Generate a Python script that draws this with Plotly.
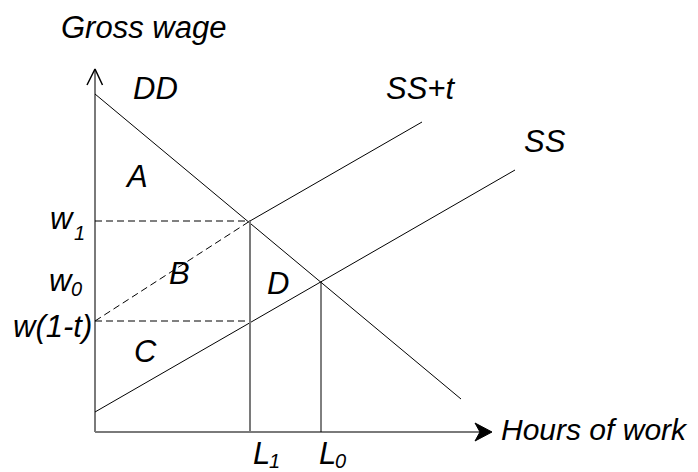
import plotly.graph_objects as go

# Diagram values (hours on x, gross wage on y, arbitrary units)
L1 = 15.5
L0 = 22.6
w1 = 21.1
w0 = 15.0
w_net = 11.1

dd_x = [0.0, 36.6]
dd_y = [33.8, 3.3]
ss_x = [0.0, 42.0]
ss_y = [2.0, 26.2]
sst_x = [L1, 32.7]
sst_y = [w1, 31.0]
pivot_x = [0.0, L1]
pivot_y = [w_net, w1]

x_axis_end = 39.5
y_axis_top = 36.3

FONT = "Liberation Sans, Arial, Helvetica, sans-serif"
BIG = 31
SMALL = 20

fig = go.Figure()

def seg(xs, ys, color="black", width=1, dash=None, fill=None):
    fig.add_trace(go.Scatter(
        x=xs, y=ys, mode="lines",
        line=dict(color=color, width=width, dash=dash),
        fill=fill, fillcolor=color if fill else None,
        hoverinfo="skip", showlegend=False))

# axes
seg([0, 0], [0, y_axis_top], color="#7a7a7a", width=2)
seg([0, x_axis_end], [0, 0], color="#7a7a7a", width=2)
# y arrowhead (open chevron)
seg([-0.8, 0, 0.75], [y_axis_top - 1.6, y_axis_top, y_axis_top - 1.6], width=1.5)
# x arrowhead (filled chevron)
seg([x_axis_end - 1.5, x_axis_end + 0.2, x_axis_end - 1.5, x_axis_end - 1.0, x_axis_end - 1.5],
    [0.9, 0, -0.9, 0, 0.9], width=1, fill="toself")

# curves
seg(dd_x, dd_y)
seg(ss_x, ss_y)
seg(sst_x, sst_y)
seg(pivot_x, pivot_y, dash="7px,4px")
seg([0, L1], [w1, w1], dash="7px,4px")
seg([0, L1], [w_net, w_net], dash="7px,4px")
seg([L1, L1], [0, w1], color="#7a7a7a", width=2)
seg([L0, L0], [0, w0])

labels = [
    ("Gross wage", -3.6, 40.5, BIG),
    ("DD", 3.6, 34.4, BIG),
    ("A", 2.8, 25.6, BIG),
    ("w", -4.7, 21.4, BIG),
    ("1", -2.3, 19.9, SMALL),
    ("w", -4.8, 15.2, BIG),
    ("0", -2.6, 14.3, SMALL),
    ("w(1-t)", -8.4, 10.6, BIG),
    ("B", 7.2, 15.9, BIG),
    ("D", 17.0, 14.9, BIG),
    ("C", 3.7, 8.1, BIG),
    ("L", 15.6, -2.1, BIG),
    ("1", 17.2, -2.9, SMALL),
    ("L", 22.2, -2.1, BIG),
    ("0", 23.8, -2.9, SMALL),
    ("SS+t", 28.9, 34.4, BIG),
    ("SS", 42.7, 29.1, BIG),
    ("Hours of work", 40.4, 0.3, 30),
]
for txt, x, y, size in labels:
    fig.add_annotation(x=x, y=y, xref="x", yref="y", text="<i>" + txt + "</i>",
                       showarrow=False, xanchor="left", yanchor="middle",
                       font=dict(family=FONT, size=size, color="black"))

# the page body has an 8px margin, so the figure is 690x464 and the ranges
# are chosen so the diagram lands where the reference shows it
fig.update_layout(
    width=690, height=464,
    margin=dict(l=0, r=0, t=0, b=0),
    paper_bgcolor="white", plot_bgcolor="white",
    xaxis=dict(range=[-8.7, 60.3], visible=False, fixedrange=True),
    yaxis=dict(range=[-4.0, 42.4], visible=False, fixedrange=True),
    showlegend=False,
)
fig.write_html("out.html")
